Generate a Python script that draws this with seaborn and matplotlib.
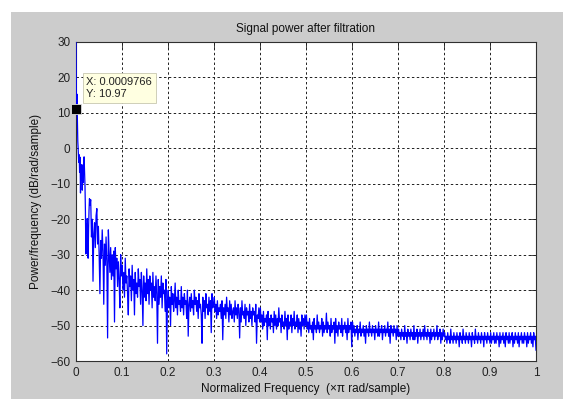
import numpy as np
import pandas as pd
import matplotlib
matplotlib.use("Agg")
import matplotlib.pyplot as plt
from matplotlib.patches import Rectangle
import seaborn as sns

# ---------------- data ----------------
# lowest bins, spaced 1/1024 (normalized frequency)
power_head = [30.0, 10.97, 15.3, 8.1, 2.0, -0.6, -3.9, -1.8, -6.8, -2.5,
              -12.6, -5.3, -8.9, -4.6, -11.8, -6.2, -9.7, -4.1, -2.4, -6.3,
              -10.5, -18.0, -29.8, -21.3, -26.7, -19.8, -24.5, -31.0, -22.6, -17.4,
              -14.2]
# remaining spectrum, 0.0303 .. 1.0 (evenly spaced)
power_body = [
    # 0.03 - 0.10
    -16, -14.5, -25, -20, -37.5, -24, -21, -28, -19, -17, -27, -22, -30, -41,
    -26, -31, -23, -29, -44, -27, -33, -25, -32, -53.5, -23, -30, -35, -28,
    -37, -30, -36, -29, -49, -28, -34, -31, -39, -32, -37, -45, -30, -36,
    # 0.1 - 0.2
    -33, -40, -35, -42, -31, -38, -36, -41, -47, -34, -39, -36, -43, -33, -40,
    -37, -47, -35, -41, -38, -42, -34, -39, -37, -44, -35, -40, -50, -36, -42,
    -38, -43, -34, -41, -37, -44, -36, -40, -38, -45, -35, -42, -39, -43, -36,
    -41, -55, -37, -44, -39, -42, -36, -45, -38, -41, -40, -46, -37, -58, -43,
    # 0.2 - 0.3
    -40, -45, -42, -50, -39, -44, -41, -46, -43, -38, -45, -42, -47, -40, -44,
    -43, -46, -39, -45, -42, -47, -41, -44, -43, -48, -40, -53, -44, -42, -46,
    -41, -45, -43, -47, -40, -44, -42, -46, -43, -48, -41, -45, -44, -47, -55,
    -42, -46, -43, -48, -41, -45, -44, -47, -42, -46, -43, -52, -41, -45, -44,
    # 0.3 - 0.4
    -42, -46, -44, -48, -43, -47, -45, -46, -44, -48, -43, -54, -45, -47, -44,
    -48, -42, -46, -45, -49, -43, -47, -44, -48, -46, -45, -49, -43, -47, -45,
    -48, -44, -46, -53.5, -45, -49, -43, -47, -46, -48, -44, -50, -45, -47, -46,
    -49, -44, -48, -46, -50, -45, -47, -46, -49, -44, -55, -47, -48, -45, -49,
    # 0.4 - 0.5
    -45, -49, -47, -51, -46, -50, -48, -49, -47, -54, -46, -50, -48, -51, -47,
    -49, -48, -52, -46, -50, -47, -51, -48, -50, -45, -49, -48, -52, -47, -50,
    -49, -51, -46, -50, -48, -54, -47, -51, -49, -50, -47, -52, -48, -50, -46,
    -51, -49, -50, -47, -52, -48, -51, -49, -53, -47, -50, -48, -51, -47, -50,
    # 0.5 - 0.6
    -47, -51, -49, -52, -48, -51, -50, -52, -49, -54, -48, -51, -50, -52, -47,
    -51, -49, -52, -50, -51, -48, -53, -49, -52, -50, -51, -46.5, -52, -49, -51,
    -50, -53, -48, -52, -50, -51, -49, -55, -48, -52, -50, -53, -49, -51, -50,
    -52, -48, -53, -50, -51, -49, -52, -50, -54, -48, -52, -50, -51, -49, -56,
    # 0.6 - 0.7
    -49, -52, -50, -53, -51, -52, -50, -54, -51, -52, -49, -53, -51, -52, -50,
    -53, -51, -55, -50, -52, -51, -53, -49, -52, -51, -53, -50, -52, -51, -54,
    -50, -52, -51, -53, -49, -53, -51, -52, -50, -54, -51, -52, -50, -53, -51,
    -52, -49, -53, -51, -55, -50, -52, -51, -53, -50, -52, -51, -54, -50, -53,
    # 0.7 - 0.8
    -51, -53, -52, -54, -51, -53, -52, -54, -50, -53, -52, -55, -51, -53, -52,
    -54, -51, -53, -52, -54, -50, -54, -52, -53, -51, -55, -52, -53, -51, -54,
    -52, -53, -51, -54, -50, -53, -52, -54, -51, -53, -52, -55, -51, -54, -52,
    -53, -51, -54, -52, -53, -50, -54, -52, -53, -51, -55, -52, -54, -51, -53,
    # 0.8 - 0.9
    -52, -54, -53, -55, -52, -54, -53, -55, -51, -54, -53, -55, -52, -54, -53,
    -55, -52, -54, -53, -56, -52, -54, -53, -55, -51, -54, -53, -55, -52, -54,
    -53, -55, -52, -54, -53, -56, -52, -54, -53, -55, -51, -54, -53, -55, -52,
    -54, -53, -55, -52, -54, -53, -56, -52, -54, -53, -55, -52, -54, -53, -55,
    # 0.9 - 1.0
    -52, -55, -53, -54, -52, -55, -53, -55, -52, -54, -53, -56, -52, -55, -53,
    -54, -52, -55, -53, -56, -52, -54, -53, -55, -52, -55, -53, -54, -52, -56,
    -53, -55, -52, -54, -53, -55, -52, -56, -53, -54, -52, -55, -53, -55, -52,
    -54, -53, -56, -52, -55, -53, -54, -52, -55, -53, -56, -52, -54, -53, -57,
]
body_start = 0.0303
tip_x = 0.0009766
tip_y = 10.97
x_ticks = [0, 0.1, 0.2, 0.3, 0.4, 0.5, 0.6, 0.7, 0.8, 0.9, 1]
x_tick_labels = ["0", "0.1", "0.2", "0.3", "0.4", "0.5", "0.6", "0.7", "0.8", "0.9", "1"]
y_ticks = [-60, -50, -40, -30, -20, -10, 0, 10, 20, 30]

title = "Signal power after filtration"
xlabel = "Normalized Frequency  (\u00d7\u03c0 rad/sample)"
ylabel = "Power/frequency (dB/rad/sample)"

freq = np.concatenate([np.arange(len(power_head)) / 1024.0,
                       np.linspace(body_start, 1.0, len(power_body))])
power = np.array(power_head + power_body, dtype=float)
df = pd.DataFrame({"freq": freq, "power": power})

# ---------------- style ----------------
sns.set_style("white")
plt.rcParams["font.family"] = ["Liberation Sans", "DejaVu Sans"]
plt.rcParams["font.size"] = 8.5

W, H = 563, 399
fig = plt.figure(figsize=(W / 100, H / 100), dpi=100, facecolor="white")
fig.patches.append(Rectangle((11 / W, 0), 1 - 11 / W, 1 - 12 / H,
                             transform=fig.transFigure, facecolor="#cccccc",
                             edgecolor="none", zorder=-10))

ax = fig.add_axes([76 / W, (H - 361) / H, (536 - 76) / W, (361 - 42) / H])
ax.set_facecolor("white")

sns.lineplot(data=df, x="freq", y="power", ax=ax, color="#0000ff",
             linewidth=0.9, sort=False, estimator=None, legend=False, zorder=3)

ax.set_xlim(0, 1)
ax.set_ylim(-60, 30)
ax.set_xticks(x_ticks)
ax.set_xticklabels(x_tick_labels)
ax.set_yticks(y_ticks)
ax.grid(True, color="#202020", linestyle=(0, (2.5, 2.5)), linewidth=0.7)
ax.set_axisbelow(True)
ax.tick_params(direction="in", length=4, width=0.6, top=True, right=True,
               labelsize=8.5, colors="#222222", pad=4)
for s in ax.spines.values():
    s.set_color("#303030")
    s.set_linewidth(0.8)

ax.set_title(title, fontsize=8.5, pad=7, color="#111111")
ax.set_xlabel(xlabel, fontsize=8.5, labelpad=3, color="#111111")
ax.set_ylabel(ylabel, fontsize=8.5, labelpad=6, color="#111111")

# data tip
ax.plot([tip_x], [tip_y], marker="s", markersize=6.5, color="black",
        markeredgecolor="#dddddd", markeredgewidth=0.6, zorder=5, clip_on=False)
ax.annotate(f"X: {tip_x}\nY: {tip_y}", xy=(tip_x, tip_y),
            xytext=(10, 10), textcoords="offset pixels", ha="left", va="bottom",
            fontsize=8, color="#222222", linespacing=1.35, zorder=6,
            bbox=dict(boxstyle="square,pad=0.35", facecolor="#ffffe1",
                      edgecolor="#c8c8b0", linewidth=0.6))

fig.savefig("out.png", dpi=100, facecolor=fig.get_facecolor())
